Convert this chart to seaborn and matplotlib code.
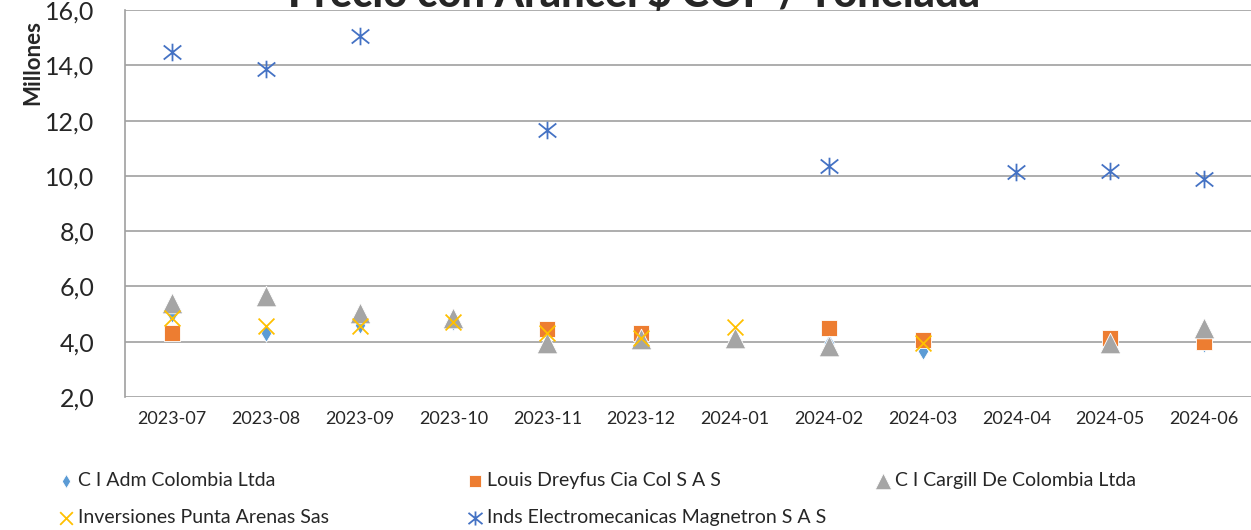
import numpy as np
import pandas as pd
import matplotlib
matplotlib.use("Agg")
import matplotlib.pyplot as plt
from matplotlib.path import Path
import seaborn as sns

# Data (millones COP / tonelada)
months = ["2023-07", "2023-08", "2023-09", "2023-10", "2023-11", "2023-12",
          "2024-01", "2024-02", "2024-03", "2024-04", "2024-05", "2024-06"]
nan = np.nan
adm = [5.00, 4.30, 4.60, 4.70, 4.30, 4.20, 4.08, 3.97, 3.65, nan, 4.12, 3.90]
dreyfus = [4.33, nan, nan, nan, 4.45, 4.30, nan, 4.48, 4.05, nan, 4.12, 4.00]
cargill = [5.40, 5.64, 5.03, 4.85, 3.95, 4.10, 4.12, 3.86, nan, nan, 3.97, 4.51]
punta = [4.84, 4.58, 4.55, 4.70, 4.30, 4.15, 4.52, nan, 3.95, nan, nan, nan]
magnetron = [14.48, 13.86, 15.06, nan, 11.65, nan, nan, 10.35, nan, 10.13, 10.17, 9.88]

series_names = ["C I Adm Colombia Ltda", "Louis Dreyfus Cia Col S A S",
                "C I Cargill De Colombia Ltda", "Inversiones Punta Arenas Sas",
                "Inds Electromecanicas Magnetron S A S"]
series_values = [adm, dreyfus, cargill, punta, magnetron]
colors = ["#5B9BD5", "#ED7D31", "#A5A5A5", "#FFC000", "#4472C4"]

# asterisk marker (x + vertical bar)
star = Path([(-1, -0.8), (1, 0.8), (-1, 0.8), (1, -0.8), (0, -1), (0, 1)],
            [Path.MOVETO, Path.LINETO, Path.MOVETO, Path.LINETO, Path.MOVETO, Path.LINETO])
markers = ["d", "s", "^", "x", star]
sizes = [80, 125, 220, 130, 160]

sns.set_style("white")
plt.rcParams["font.family"] = ["Lato", "DejaVu Sans"]

fig = plt.figure(figsize=(12.51, 5.30), dpi=100)
ax = fig.add_axes([0.1, 0.251, 0.9, 0.730])

for name, vals, col, mk, sz in zip(series_names, series_values, colors, markers, sizes):
    d = pd.DataFrame({"idx": np.arange(len(months)), "Precio": vals}).dropna()
    filled = mk in ("d", "s", "^")
    sns.scatterplot(data=d, x="idx", y="Precio", color=col, marker=mk, s=sz,
                    edgecolor="white" if filled else col,
                    linewidth=0.6 if filled else 1.3, label=name, ax=ax, zorder=3)

ax.set_xlim(-0.5, 11.5)
ax.set_ylim(2, 16)
ax.set_xticks(range(len(months)))
ax.set_xticklabels(months, fontsize=13)
ax.set_yticks(np.arange(2, 17, 2))
ax.set_yticklabels([f"{v:.1f}".replace(".", ",") for v in np.arange(2, 17, 2)], fontsize=18)
ax.tick_params(axis="both", length=0)
ax.tick_params(axis="x", pad=10)
ax.tick_params(axis="y", pad=22)
ax.set_xlabel("")
ax.set_ylabel("")
ax.grid(axis="y", color="#A0A0A0", linewidth=1.2)
ax.set_axisbelow(True)
for s in ["top", "right", "bottom"]:
    ax.spines[s].set_visible(False)
ax.spines["left"].set_color("#A0A0A0")
ax.spines["left"].set_linewidth(1.2)

fig.text(0.507, 1.01, "Precio con Arancel $ COP / Tonelada", ha="center", va="center",
         fontsize=30, fontweight="black")
fig.text(0.026, 0.883, "Millones", rotation=90, ha="center", va="center",
         fontsize=16, fontweight="bold")

handles, labels = ax.get_legend_handles_labels()
ax.get_legend().remove()
hmap = dict(zip(labels, handles))
cols = [(0.039, [series_names[0], series_names[3]]),
        (0.366, [series_names[1], series_names[4]]),
        (0.692, [series_names[2]])]
for x0, names in cols:
    fig.legend([hmap[n] for n in names], names, loc="upper left",
               bbox_to_anchor=(x0, 0.124), frameon=False, fontsize=14,
               handletextpad=0.1, handlelength=1.0, labelspacing=1.05,
               borderaxespad=0, markerscale=0.8)

fig.savefig("out.png", dpi=100)
